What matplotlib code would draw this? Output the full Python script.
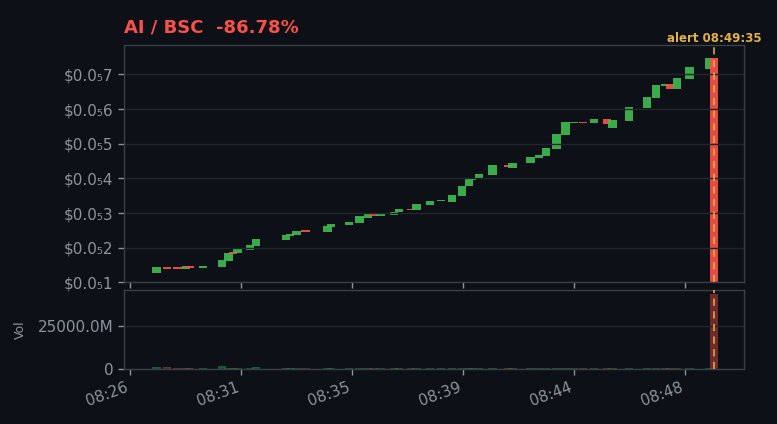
import matplotlib
matplotlib.use("Agg")
import matplotlib.pyplot as plt
from matplotlib.ticker import FuncFormatter, FixedLocator

# ---------------- data ----------------
title_text = "AI / BSC  -86.78%"
alert_label = "alert 08:49:35"
alert_time = "08:49:35"

candle_times = [
    "08:27:48", "08:28:13", "08:28:38", "08:28:57", "08:29:06", "08:29:37",
    "08:30:22", "08:30:37", "08:30:47", "08:30:58", "08:31:27", "08:31:41",
    "08:32:52", "08:33:01", "08:33:16", "08:33:37", "08:34:29", "08:34:37",
    "08:35:19", "08:35:44", "08:36:04", "08:36:17", "08:36:33", "08:37:05",
    "08:37:17", "08:37:45", "08:37:58", "08:38:29", "08:38:55", "08:39:21",
    "08:39:44", "08:40:01", "08:40:08", "08:40:24", "08:40:55", "08:41:32",
    "08:41:42", "08:42:25", "08:42:45", "08:43:01", "08:43:26", "08:43:47",
    "08:44:05", "08:44:28", "08:44:53", "08:45:24", "08:45:37", "08:46:15",
    "08:46:58", "08:47:19", "08:47:40", "08:47:52", "08:48:08", "08:48:37",
    "08:49:23", "08:49:35",
]
# prices in units of 1e-6 USD
opens = [
    1.28, 1.435, 1.44, 1.38, 1.47, 1.42,
    1.44, 1.61, 1.87, 1.84, 1.93, 2.04,
    2.21, 2.33, 2.36, 2.50, 2.45, 2.59,
    2.64, 2.70, 2.87, 2.96, 2.91, 2.93,
    3.02, 3.13, 3.08, 3.22, 3.34, 3.33,
    3.48, 3.77, 3.94, 3.97, 4.11, 4.40,
    4.31, 4.43, 4.60, 4.65, 4.86, 5.26,
    5.60, 5.63, 5.60, 5.72, 5.46, 5.66,
    6.04, 6.32, 6.66, 6.72, 6.58, 6.86,
    7.17, 7.47,
]
closes = [
    1.44, 1.425, 1.39, 1.47, 1.42, 1.47,
    1.64, 1.84, 1.83, 1.96, 2.07, 2.24,
    2.36, 2.39, 2.49, 2.45, 2.62, 2.67,
    2.73, 2.90, 2.96, 2.92, 2.96, 3.04,
    3.13, 3.08, 3.25, 3.36, 3.37, 3.51,
    3.79, 3.97, 4.00, 4.14, 4.40, 4.33,
    4.45, 4.63, 4.68, 4.88, 5.29, 5.63,
    5.63, 5.60, 5.72, 5.58, 5.69, 6.06,
    6.35, 6.69, 6.72, 6.58, 6.89, 7.21,
    7.47, 0.99,
]
# volumes in USD
volumes = [
    1.2e9, 1.1e9, 0.6e9, 0.6e9, 0.5e9, 0.6e9,
    1.7e9, 0.6e9, 0.5e9, 0.6e9, 0.5e9, 1.1e9,
    0.4e9, 0.5e9, 0.4e9, 0.3e9, 0.5e9, 0.5e9,
    0.6e9, 0.6e9, 0.5e9, 0.6e9, 0.5e9, 0.5e9,
    0.6e9, 0.6e9, 0.5e9, 0.5e9, 0.6e9, 0.5e9,
    0.6e9, 0.5e9, 0.6e9, 0.6e9, 0.5e9, 0.4e9,
    0.5e9, 0.5e9, 0.5e9, 0.6e9, 0.5e9, 0.5e9,
    0.4e9, 0.5e9, 0.5e9, 0.4e9, 0.5e9, 0.5e9,
    0.5e9, 0.5e9, 0.4e9, 0.5e9, 0.5e9, 0.5e9,
    0.6e9, 4.36e10,
]
x_tick_times = ["08:26:46", "08:31:06", "08:35:26", "08:39:46", "08:44:06", "08:48:26"]
x_tick_labels = ["08:26", "08:31", "08:35", "08:39", "08:44", "08:48"]
x_range = ["08:26:32", "08:50:45"]
y_ticks = [1, 2, 3, 4, 5, 6, 7]
vol_ticks = [0, 2.5e10]

# ---------------- style ----------------
BG = "#0d1117"
GREEN = "#3fb950"
RED = "#f85149"
GOLD = "#e3b341"
GRAY = "#8b949e"
SPINE = "#3a3f47"
GRID = "#21262d"


def to_sec(s):
    h, m, sec = (int(p) for p in s.split(":"))
    return h * 3600 + m * 60 + sec


t = [to_sec(s) for s in candle_times]
tick_pos = [to_sec(s) for s in x_tick_times]
alert_t = to_sec(alert_time)

SUB = str.maketrans("0123456789", "₀₁₂₃₄₅₆₇₈₉")


def price_fmt(v, pos=None):
    price = v * 1e-6
    frac = f"{price:.12f}".split(".")[1]
    stripped = frac.lstrip("0")
    z = len(frac) - len(stripped)
    rest = stripped[:3].rstrip("0") or "0"
    return "$0.0" + str(z).translate(SUB) + rest


def vol_fmt(v, pos=None):
    if v == 0:
        return "0"
    return f"{v / 1e6:.1f}M"


fig = plt.figure(figsize=(7.77, 4.24), dpi=100, facecolor=BG)
ax = fig.add_axes([124 / 777, 1 - 282.3 / 424, (744 - 124) / 777, (282.3 - 45) / 424])
axv = fig.add_axes([124 / 777, 1 - 369 / 424, (744 - 124) / 777, (369 - 290) / 424], sharex=ax)

for a in (ax, axv):
    a.set_facecolor(BG)
    for sp in a.spines.values():
        sp.set_color(SPINE)
        sp.set_linewidth(1.0)
    a.tick_params(colors=GRAY, labelcolor=GRAY, labelsize=11, length=4, width=1)
    a.grid(axis="y", color=GRID, linewidth=1.0)
    a.grid(axis="x", visible=False)

W = 20
bottoms, heights, cols = [], [], []
for o, c in zip(opens, closes):
    h = c - o
    if abs(h) < 0.04:
        h = 0.04 if h >= 0 else -0.04
    bottoms.append(o)
    heights.append(h)
    cols.append(GREEN if c >= o else RED)

ax.bar(t, heights, bottom=bottoms, width=W, color=cols, alpha=0.92, linewidth=0)
axv.bar(t, volumes, width=W, color=cols, alpha=0.42, linewidth=0)

ax.axvline(alert_t, color=GOLD, linestyle=(0, (4, 3)), linewidth=1.3, alpha=0.85, zorder=3)
axv.axvline(alert_t, color=GOLD, linestyle=(0, (4, 3)), linewidth=1.3, alpha=0.85, zorder=3)

ax.set_ylim(1.0, 7.85)
ax.yaxis.set_major_locator(FixedLocator(y_ticks))
ax.yaxis.set_major_formatter(FuncFormatter(price_fmt))
ax.set_xlim(to_sec(x_range[0]), to_sec(x_range[1]))
ax.xaxis.set_major_locator(FixedLocator(tick_pos))
ax.tick_params(axis="x", labelbottom=False)

axv.set_ylim(0, 4.59e10)
axv.yaxis.set_major_locator(FixedLocator(vol_ticks))
axv.yaxis.set_major_formatter(FuncFormatter(vol_fmt))
axv.set_xticks(tick_pos)
axv.set_xticklabels(x_tick_labels, rotation=20, ha="right")
axv.set_ylabel("Vol", color=GRAY, fontsize=9, labelpad=8)

ax.text(alert_t, 7.85, alert_label, color=GOLD, fontsize=8.5, fontweight="bold",
        ha="center", va="bottom")

fig.text(124 / 777, 1 - 27 / 424, title_text, color=RED, fontsize=13, fontweight="bold",
         ha="left", va="center")

fig.savefig("out.png", dpi=100, facecolor=BG)
